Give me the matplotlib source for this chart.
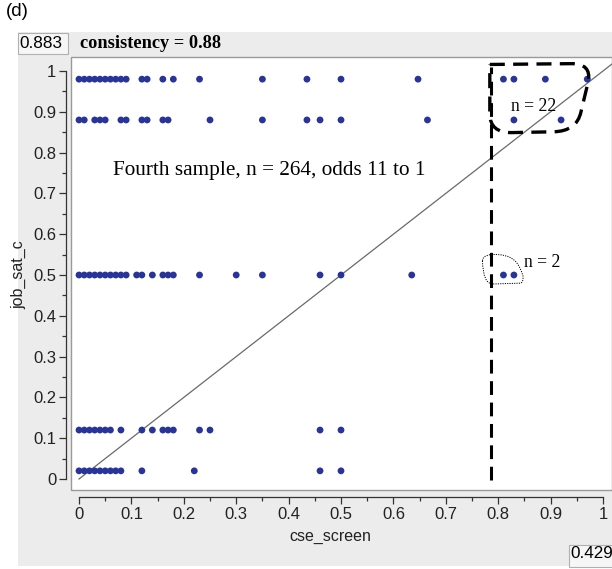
import matplotlib
matplotlib.use('Agg')
from matplotlib import pyplot as plt
from matplotlib.patches import Rectangle, PathPatch
from matplotlib.path import Path
from matplotlib.ticker import MultipleLocator

# job satisfaction levels (rows) and cse_screen values on each row
y_levels = [0.98, 0.88, 0.5, 0.12, 0.02]
x_098 = [0.0, 0.01, 0.02, 0.03, 0.04, 0.05, 0.06, 0.07, 0.08, 0.09,
         0.12, 0.13, 0.16, 0.18, 0.23, 0.35, 0.435, 0.5, 0.647,
         0.81, 0.83, 0.89, 0.97]
x_088 = [0.0, 0.01, 0.03, 0.04, 0.05, 0.08, 0.09, 0.12, 0.13, 0.16, 0.17,
         0.25, 0.35, 0.435, 0.46, 0.5, 0.665, 0.83, 0.92]
x_050 = [0.0, 0.01, 0.02, 0.03, 0.04, 0.05, 0.06, 0.07, 0.08, 0.09,
         0.11, 0.12, 0.14, 0.16, 0.17, 0.18, 0.23, 0.30, 0.35, 0.46, 0.5,
         0.635, 0.81, 0.83]
x_012 = [0.0, 0.01, 0.02, 0.03, 0.04, 0.05, 0.06, 0.08, 0.12, 0.14,
         0.16, 0.17, 0.18, 0.23, 0.25, 0.46, 0.5]
x_002 = [0.0, 0.01, 0.02, 0.03, 0.04, 0.05, 0.06, 0.07, 0.08, 0.12, 0.22,
         0.46, 0.5]
rows = [x_098, x_088, x_050, x_012, x_002]

cut_x = 0.786
consistency = 0.88
n_total = 264
n_hi = 22
n_mid = 2

W, H = 612, 569
BG = '#ececec'
DOT = '#28349a'


def fx(px):
    return px / W


def fy(py):
    return 1 - py / H


def main():
    fig = plt.figure(figsize=(W / 100, H / 100), dpi=100)
    fig.patch.set_facecolor('white')

    # gray panel and header boxes
    fig.patches.append(Rectangle((fx(18), fy(566)), fx(W - 18), (566 - 32) / H,
                                 transform=fig.transFigure, facecolor=BG, edgecolor='none', zorder=-3))
    fig.patches.append(Rectangle((fx(18), fy(54)), fx(50), 21 / H, transform=fig.transFigure,
                                 facecolor='#f6f6f6', edgecolor='#b0b0b0', lw=0.8, zorder=-2))
    fig.patches.append(Rectangle((fx(569), fy(567)), fx(50), 22 / H, transform=fig.transFigure,
                                 facecolor='#f6f6f6', edgecolor='#b0b0b0', lw=0.8, zorder=-2))
    fig.text(fx(6), fy(11), '(d)', fontsize=13.5, family='Liberation Sans', va='center')
    fig.text(fx(19), fy(44), '0.883', fontsize=12.3, family='Liberation Sans', va='center')
    fig.text(fx(80), fy(43), f'consistency = {consistency:.2f}', fontsize=13.2,
             family='Liberation Serif', weight='bold', va='center')
    fig.text(fx(570), fy(554), '0.429', fontsize=12.3, family='Liberation Sans', va='center')

    ax = fig.add_axes([fx(71), fy(490), fx(W - 71), (490 - 57) / H])
    ax.set_facecolor('white')
    ax.set_xlim((71 - 79) / 524, (W - 79) / 524)
    ax.set_ylim((479 - 490) / 408, (479 - 57) / 408)

    for y, xs in zip(y_levels, rows):
        ax.scatter(xs, [y] * len(xs), s=24, color=DOT, edgecolors='none', zorder=3)

    ax.plot([0, 1.03], [0, 1.03], color='#6a6a6a', lw=0.9, zorder=2)
    ax.plot([cut_x, cut_x], [-0.003, 1.01], color='black', lw=2.2,
            linestyle=(0, (4.5, 2.5)), zorder=4)

    # hand-drawn outlines around the upper right groups
    big = Path([(0.784, 1.016), (0.94, 1.018), (0.978, 1.018), (0.972, 0.975),
                (0.958, 0.90), (0.950, 0.852), (0.905, 0.851), (0.825, 0.849),
                (0.784, 0.849), (0.784, 0.895), (0.784, 1.016)],
               [Path.MOVETO, Path.LINETO, Path.CURVE3, Path.CURVE3,
                Path.LINETO, Path.CURVE3, Path.CURVE3, Path.LINETO,
                Path.CURVE3, Path.CURVE3, Path.CLOSEPOLY])
    ax.add_patch(PathPatch(big, facecolor='none', edgecolor='black', lw=2.4,
                           linestyle=(0, (4.5, 2.5)), zorder=4))
    small = Path([(0.770, 0.535), (0.771, 0.553), (0.80, 0.550), (0.832, 0.548),
                  (0.842, 0.515), (0.853, 0.488), (0.843, 0.480), (0.79, 0.478),
                  (0.771, 0.478), (0.770, 0.535), (0.770, 0.535)],
                 [Path.MOVETO, Path.CURVE3, Path.CURVE3, Path.CURVE3,
                  Path.CURVE3, Path.CURVE3, Path.CURVE3, Path.LINETO,
                  Path.CURVE3, Path.CURVE3, Path.CLOSEPOLY])
    ax.add_patch(PathPatch(small, facecolor='none', edgecolor='black', lw=0.7,
                           linestyle=(0, (1.2, 1.2)), zorder=4))

    ax.text(0.364, 0.757, f'Fourth sample, n = {n_total}, odds 11 to 1', fontsize=15.3,
            family='Liberation Serif', ha='center', va='center')
    ax.text(0.868, 0.912, f'n = {n_hi}', fontsize=12.7, family='Liberation Serif',
            ha='center', va='center')
    ax.text(0.849, 0.531, f'n = {n_mid}', fontsize=12.7, family='Liberation Serif',
            ha='left', va='center')

    # frame of the plotting area
    ax.add_patch(Rectangle((0, 0), 1, 1, transform=ax.transAxes, facecolor='none',
                           edgecolor='#9a9a9a', lw=1.0, clip_on=False, zorder=5))

    # detached axes lines
    ax.spines['top'].set_visible(False)
    ax.spines['right'].set_visible(False)
    ax.spines['left'].set_position(('outward', 3.6))
    ax.spines['bottom'].set_position(('outward', 5))
    ax.spines['left'].set_bounds(0, 1)
    ax.spines['bottom'].set_bounds(0, 1)
    for s in ('left', 'bottom'):
        ax.spines[s].set_color('#333333')
        ax.spines[s].set_linewidth(0.9)

    ax.xaxis.set_major_locator(MultipleLocator(0.1))
    ax.xaxis.set_minor_locator(MultipleLocator(0.05))
    ax.yaxis.set_major_locator(MultipleLocator(0.1))
    ax.yaxis.set_minor_locator(MultipleLocator(0.05))
    ticks = [i / 10 for i in range(11)]
    ax.set_xticks(ticks)
    ax.set_yticks(ticks)
    ax.set_xticklabels([f'{t:g}' for t in ticks])
    ax.set_yticklabels([f'{t:g}' for t in ticks])
    ax.tick_params(which='major', length=5, width=0.9, color='#333333', labelsize=12,
                   pad=2)
    ax.tick_params(which='minor', length=3, width=0.9, color='#333333')
    for lab in ax.get_xticklabels() + ax.get_yticklabels():
        lab.set_family('Liberation Sans')
        lab.set_color('#222222')

    fig.text(fx(330), fy(537), 'cse_screen', fontsize=11.5, family='Liberation Sans',
             ha='center', va='center', color='#222222')
    fig.text(fx(19), fy(275), 'job_sat_c', fontsize=11.5, family='Liberation Sans',
             ha='center', va='center', rotation=90, color='#222222')

    plt.savefig('out.png', dpi=100)


if __name__ == '__main__':
    main()
